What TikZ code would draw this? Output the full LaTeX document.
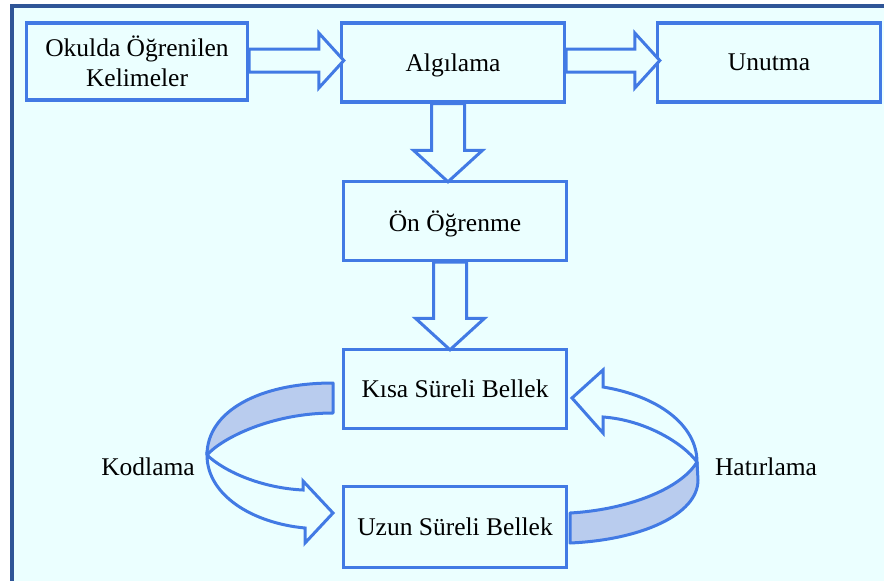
\documentclass[tikz,border=0pt]{standalone}
\usepackage{fontspec}
\setmainfont{Liberation Serif}
\usetikzlibrary{calc}
\definecolor{bgc}{RGB}{235,255,255}
\definecolor{framec}{RGB}{47,85,151}
\definecolor{boxc}{RGB}{66,122,228}
\definecolor{shadec}{RGB}{185,204,238}
\tikzset{
  box/.style={draw=boxc, line width=3.4pt, fill=bgc, inner sep=0pt, align=center,
    font=\fontsize{25.5}{30}\selectfont, text=black, minimum width=223pt, minimum height=79pt},
  onebox/.style={box, text depth=0pt},
  blockarrow/.style={draw=boxc, line width=3pt, fill=bgc, line join=miter},
  ribbonfront/.style={draw=boxc, line width=3pt, fill=bgc, line join=miter},
  ribbonback/.style={draw=boxc, line width=3pt, fill=shadec, line join=round},
  lbl/.style={font=\fontsize{25.5}{30}\selectfont, text=black, inner sep=0pt}
}
\newcommand\harr[2]{%
  \draw[blockarrow] let \p1=(#1.east), \p2=(#2.west) in
    (\x1,{\y2+2pt+11.5pt}) -- ({\x2+4pt-25pt},{\y2+2pt+11.5pt}) --
    ({\x2+4pt-25pt},{\y2+2pt+27.5pt}) -- ({\x2+4pt},{\y2+2pt}) --
    ({\x2+4pt-25pt},{\y2+2pt-27.5pt}) -- ({\x2+4pt-25pt},{\y2+2pt-11.5pt}) --
    (\x1,{\y2+2pt-11.5pt}) -- cycle;}
\newcommand\varr[2]{%
  \draw[blockarrow] let \p1=(#1.south), \p2=(#2.north) in
    ({\x1-5pt-16.5pt},\y1) -- ({\x1-5pt-16.5pt},{\y2-2pt+31.5pt}) --
    ({\x1-5pt-34.5pt},{\y2-2pt+31.5pt}) -- ({\x1-5pt},{\y2-2pt}) --
    ({\x1-5pt+34.5pt},{\y2-2pt+31.5pt}) -- ({\x1-5pt+16.5pt},{\y2-2pt+31.5pt}) --
    ({\x1-5pt+16.5pt},\y1) -- cycle;}
\begin{document}
\begin{tikzpicture}[x=1pt,y=-1pt]
\useasboundingbox (0,0) rectangle (884,581);
\fill[white] (0,0) rectangle (884,581);
\draw[framec, line width=4pt, fill=bgc] (11.5,6) rectangle (900,600);

\node[box, minimum width=221pt, minimum height=77pt] (o) at (137,61.5) {Okulda Öğrenilen\\Kelimeler};
\node[onebox] (a) at (453,62.5) {Algılama};
\node[onebox] (u) at (769,62.5) {Unutma};
\node[onebox] (on) at (455,221) {Ön Öğrenme};
\node[onebox] (k) at (455,389) {Kısa Süreli Bellek};
\node[onebox, minimum height=81pt] (uz) at (455,527) {Uzun Süreli Bellek};

\harr{o}{a}
\harr{a}{u}
\varr{a}{on}
\varr{on}{k}

% Kodlama ribbon arrow (Kisa -> Uzun)
\draw[ribbonback] (333,383) .. controls (258,383) and (207,412) .. (207,455)
  .. controls (222,438) and (272,413) .. (333,413) -- cycle;
\draw[ribbonfront] (207,455) .. controls (225,472) and (262,488) .. (303,490)
  -- (303,481) -- (333,513) -- (305,543) -- (305,528)
  .. controls (252,523) and (207,495) .. (207,455) -- cycle;

% Hatirlama ribbon arrow (Uzun -> Kisa)
\draw[ribbonfront] (572,398) -- (603,370) -- (603,387)
  .. controls (658,396) and (697,425) .. (697,462)
  .. controls (683,443) and (645,420) .. (603,417) -- (603,433) -- cycle;
\draw[ribbonback] (697,462) .. controls (680,490) and (625,510) .. (570,513)
  -- (570,543) .. controls (640,540) and (698,515) .. (698,480) -- cycle;

\node[lbl] (kod) at (148,467) {Kodlama};
\node[lbl] (hat) at (766,467) {Hatırlama};
\end{tikzpicture}
\end{document}
